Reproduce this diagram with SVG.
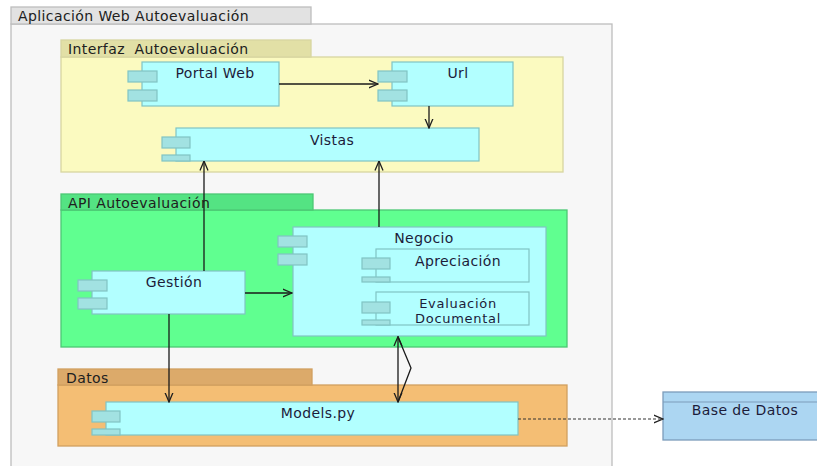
<svg xmlns="http://www.w3.org/2000/svg" width="817" height="466" viewBox="0 0 817 466">
<defs>
<marker id="open" viewBox="0 0 10 10" refX="9.5" refY="5" markerWidth="10" markerHeight="10" markerUnits="userSpaceOnUse" orient="auto-start-reverse">
<path d="M0,1 L9.5,5 L0,9" fill="none" stroke="#202020" stroke-width="1.3"/>
</marker>
</defs>
<style>
text{font-family:"DejaVu Sans","Liberation Sans",sans-serif;font-size:14px;letter-spacing:0.4px;fill:#1c1c3a;white-space:pre}
.hdr{fill:#202020}
.small{font-size:13px;letter-spacing:0.7px}
.comp{fill:#b2ffff;stroke:#80c4c4;stroke-width:1.2}
.port{fill:#a2e2e2;stroke:#80c4c4;stroke-width:1.2}
.conn{fill:none;stroke:#1a1a1a;stroke-width:1.3}
.mid{text-anchor:middle}
</style>
<rect width="817" height="466" fill="#ffffff"/>

<g id="app">
<rect x="11" y="24" width="601" height="450" fill="#f7f7f7" stroke="#bdbdbd" stroke-width="1.3"/>
<rect x="11" y="7" width="300" height="17" fill="#e2e2e2" stroke="#bdbdbd" stroke-width="1.3"/>
<text class="hdr" x="18" y="21">Aplicación Web Autoevaluación</text>
</g>

<g id="interfaz">
<rect x="61" y="57" width="502" height="115" fill="#fbfac0" stroke="#d8d6a0" stroke-width="1.3"/>
<rect x="61" y="40" width="250" height="17" fill="#e2e0a6" stroke="#d8d6a0" stroke-width="1.3"/>
<text class="hdr" x="68" y="54" xml:space="preserve">Interfaz  Autoevaluación</text>
</g>

<g id="api">
<rect x="61" y="210" width="506" height="137" fill="#60ff90" stroke="#4cc874" stroke-width="1.3"/>
<rect x="61" y="194" width="252" height="16" fill="#54e383" stroke="#4cc874" stroke-width="1.3"/>
<text class="hdr" x="68" y="208">API Autoevaluación</text>
</g>

<g id="datos">
<rect x="58" y="385" width="509" height="61" fill="#f4be74" stroke="#d2a060" stroke-width="1.3"/>
<rect x="58" y="369" width="254" height="16" fill="#dcaa6a" stroke="#d2a060" stroke-width="1.3"/>
<text class="hdr" x="66" y="383">Datos</text>
</g>

<g id="portal-web">
<rect class="comp" x="142" y="62" width="137" height="44"/>
<rect class="port" x="128" y="71" width="29" height="11"/>
<rect class="port" x="128" y="90" width="29" height="11"/>
<text class="mid" x="215" y="78">Portal Web</text>
</g>

<g id="url">
<rect class="comp" x="392" y="62" width="121" height="44"/>
<rect class="port" x="378" y="71" width="29" height="11"/>
<rect class="port" x="378" y="90" width="29" height="11"/>
<text class="mid" x="458" y="78">Url</text>
</g>

<g id="vistas">
<rect class="comp" x="176" y="128" width="303" height="33"/>
<rect class="port" x="162" y="137" width="28" height="11"/>
<rect class="port" x="162" y="155" width="28" height="6"/>
<text class="mid" x="332" y="145">Vistas</text>
</g>

<g id="negocio">
<rect class="comp" x="293" y="227" width="253" height="109"/>
<rect class="port" x="278" y="236" width="29" height="11"/>
<rect class="port" x="278" y="254" width="29" height="11"/>
<text class="mid" x="424" y="243">Negocio</text>
</g>

<g id="apreciacion">
<rect class="comp" x="376" y="249" width="153" height="33"/>
<rect class="port" x="362" y="258" width="28" height="11"/>
<rect class="port" x="362" y="277" width="28" height="5"/>
<text class="mid" x="458" y="266">Apreciación</text>
</g>

<g id="evaluacion-documental">
<rect class="comp" x="376" y="292" width="153" height="33"/>
<rect class="port" x="362" y="302" width="28" height="11"/>
<rect class="port" x="362" y="320" width="28" height="5"/>
<text class="mid small" x="458" y="308">Evaluación</text>
<text class="mid small" x="458" y="323">Documental</text>
</g>

<g id="gestion">
<rect class="comp" x="92" y="271" width="153" height="43"/>
<rect class="port" x="78" y="280" width="29" height="11"/>
<rect class="port" x="78" y="298" width="29" height="11"/>
<text class="mid" x="174" y="287">Gestión</text>
</g>

<g id="models-py">
<rect class="comp" x="106" y="402" width="412" height="33"/>
<rect class="port" x="92" y="411" width="28" height="11"/>
<rect class="port" x="92" y="429" width="28" height="6"/>
<text class="mid" x="318" y="418">Models.py</text>
</g>

<g id="base-de-datos">
<rect x="663" y="392" width="170" height="48" fill="#acd6f2" stroke="#7c9cba" stroke-width="1.3"/>
<line x1="663" y1="402" x2="833" y2="402" stroke="#7c9cba" stroke-width="1.2"/>
<text class="mid" x="745" y="415">Base de Datos</text>
</g>

<g id="connectors">
<line class="conn" x1="279" y1="84" x2="378" y2="84" marker-end="url(#open)"/>
<line class="conn" x1="429" y1="106" x2="429" y2="128" marker-end="url(#open)"/>
<line class="conn" x1="204" y1="271" x2="204" y2="161" marker-end="url(#open)"/>
<line class="conn" x1="379" y1="227" x2="379" y2="161" marker-end="url(#open)"/>
<line class="conn" x1="245" y1="293" x2="292" y2="293" marker-end="url(#open)"/>
<line class="conn" x1="169" y1="314" x2="169" y2="402" marker-end="url(#open)"/>
<line class="conn" x1="398" y1="336.5" x2="398" y2="402" marker-start="url(#open)" marker-end="url(#open)"/>
<polyline class="conn" points="398,337 411,368 398,402" stroke="#404040"/>
<line x1="518" y1="419" x2="663" y2="419" stroke="#333" stroke-width="1.2" stroke-dasharray="3,2" marker-end="url(#open)"/>
</g>
</svg>
